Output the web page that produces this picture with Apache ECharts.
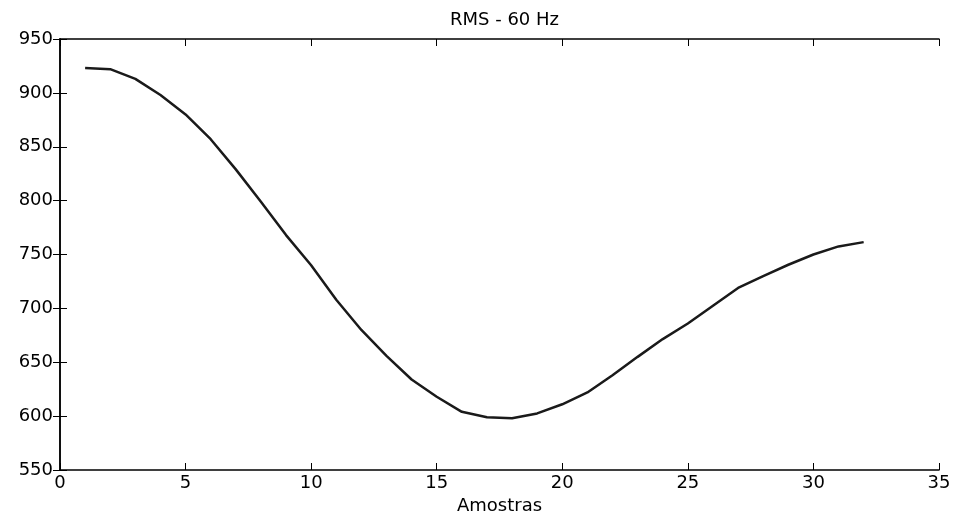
<!DOCTYPE html>
<html>
<head>
<meta charset="utf-8">
<script src="https://cdn.jsdelivr.net/npm/echarts@6/dist/echarts.min.js"></script>
<style>
html,body{margin:0;padding:0;background:#fff;}
#chart{width:954px;height:513px;}
</style>
</head>
<body>
<div id="chart"></div>
<script>
var titleText = 'RMS - 60 Hz';
var xLabel = 'Amostras';
var samples = [1,2,3,4,5,6,7,8,9,10,11,12,13,14,15,16,17,18,19,20,21,22,23,24,25,26,27,28,29,30,31,32];
var rms = [923,922,913,898,880,857,829,799,768,740,708,680,656,634,618,604,599,598,602.5,611,622,638,655,671.5,686,702.5,719,730,740.5,750,757.5,761.5];
var xTicks = [0,5,10,15,20,25,30,35];
var yTicks = [550,600,650,700,750,800,850,900,950];

var font = 'DejaVu Sans, Liberation Sans, Arial, sans-serif';
var chart = echarts.init(document.getElementById('chart'));
var axisCommon = {
  axisLine: {show: true, lineStyle: {color: '#000', width: 1.5}},
  axisTick: {show: true, inside: true, length: 7, lineStyle: {color: '#000', width: 1}},
  splitLine: {show: false}
};
chart.setOption({
  animation: false,
  backgroundColor: '#fff',
  title: {
    text: titleText, left: 499.5, textAlign: 'center', top: 6,
    textStyle: {fontFamily: font, fontSize: 18, fontWeight: 'normal', color: '#000'}
  },
  grid: {left: 60, right: 15, top: 39, bottom: 43, containLabel: false, outerBoundsMode: 'none'},
  xAxis: [
    Object.assign({
      type: 'value', min: xTicks[0], max: xTicks[xTicks.length-1], interval: 5, position: 'bottom',
      name: xLabel, nameLocation: 'middle', nameGap: 24,
      nameTextStyle: {fontFamily: font, fontSize: 18, color: '#000'},
      axisLabel: {fontFamily: font, fontSize: 18, color: '#000', margin: 4}
    }, axisCommon),
    Object.assign({
      type: 'value', min: xTicks[0], max: xTicks[xTicks.length-1], interval: 5, position: 'top',
      axisLabel: {show: false}
    }, axisCommon)
  ],
  yAxis: [
    Object.assign({
      type: 'value', min: yTicks[0], max: yTicks[yTicks.length-1], interval: 50, position: 'left',
      axisLabel: {fontFamily: font, fontSize: 18, color: '#000', margin: 7}
    }, axisCommon),
    Object.assign({
      type: 'value', min: yTicks[0], max: yTicks[yTicks.length-1], interval: 50, position: 'right',
      axisLabel: {show: false}
    }, axisCommon)
  ],
  series: [{
    type: 'line',
    data: samples.map(function(s, i){ return [s, rms[i]]; }),
    showSymbol: false,
    lineStyle: {color: '#1a1a1a', width: 2.5},
    xAxisIndex: 0, yAxisIndex: 0
  }]
});
</script>
</body>
</html>
